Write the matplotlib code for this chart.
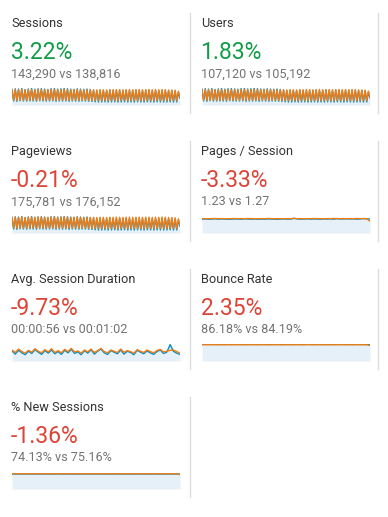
import matplotlib
matplotlib.use("Agg")
import matplotlib.pyplot as plt
import numpy as np
from matplotlib.lines import Line2D

plt.rcParams['font.family'] = ['Roboto', 'DejaVu Sans']

# ---------------- data ----------------
titles = ["Sessions", "Users", "Pageviews", "Pages / Session",
          "Avg. Session Duration", "Bounce Rate", "% New Sessions"]
changes = ["3.22%", "1.83%", "-0.21%", "-3.33%", "-9.73%", "2.35%", "-1.36%"]
positive = [True, True, False, False, False, False, False]
compare_labels = ["143,290 vs 138,816", "107,120 vs 105,192", "175,781 vs 176,152",
                  "1.23 vs 1.27", "00:00:56 vs 00:01:02", "86.18% vs 84.19%",
                  "74.13% vs 75.16%"]

sessions_cur = [
    590, 150, 610, 140, 600, 160, 620, 150, 580, 145, 605, 155, 625, 150, 595, 140, 610, 160, 620, 150,
    600, 145, 585, 150, 615, 155, 625, 140, 600, 150, 610, 145, 630, 150, 615, 140, 600, 150, 590, 145,
    610, 140, 600, 150, 590, 145, 600, 140, 585, 135, 555, 120, 540, 110, 550, 115, 545, 120, 535, 110,
    555, 115, 545, 120, 550, 110, 560, 115, 540, 120, 555, 110, 550, 115, 545, 110, 560, 120, 550, 115,
    545, 110, 555, 120, 550, 115, 540, 110, 560, 120, 545, 115, 550, 110, 555, 115, 540, 120, 545, 110,
    530, 115, 470, 260]
sessions_prev = [
    575, 175, 585, 170, 580, 180, 590, 175, 570, 170, 580, 175, 590, 180, 575, 170, 585, 175, 590, 180,
    580, 170, 575, 175, 585, 180, 590, 170, 580, 175, 585, 170, 595, 175, 585, 180, 575, 170, 580, 175,
    585, 170, 580, 175, 570, 170, 575, 165, 570, 170, 575, 160, 570, 155, 580, 160, 575, 165, 570, 155,
    580, 160, 575, 165, 585, 155, 580, 160, 575, 165, 580, 155, 585, 160, 575, 165, 580, 160, 585, 155,
    575, 160, 580, 165, 585, 155, 575, 160, 580, 165, 575, 160, 585, 155, 580, 160, 570, 165, 565, 160,
    560, 155, 520, 300]

users_cur = [
    445, 115, 460, 105, 450, 120, 465, 110, 440, 110, 455, 115, 470, 112, 450, 105, 460, 120, 465, 112,
    455, 110, 445, 112, 462, 116, 470, 105, 452, 112, 460, 110, 475, 112, 462, 105, 452, 112, 445, 110,
    458, 105, 452, 112, 445, 110, 450, 105, 440, 100, 418, 90, 405, 82, 412, 86, 410, 90, 402, 82,
    418, 86, 410, 90, 412, 82, 420, 86, 405, 90, 416, 82, 412, 86, 410, 82, 420, 90, 412, 86,
    410, 82, 416, 90, 412, 86, 405, 82, 420, 90, 410, 86, 412, 82, 416, 86, 405, 90, 410, 82,
    398, 86, 360, 200]
users_prev = [
    432, 132, 440, 128, 435, 135, 442, 132, 428, 128, 435, 132, 442, 135, 432, 128, 440, 132, 442, 135,
    435, 128, 432, 132, 440, 135, 442, 128, 435, 132, 440, 128, 446, 132, 440, 135, 432, 128, 435, 132,
    440, 128, 435, 132, 428, 128, 432, 124, 428, 128, 432, 120, 428, 116, 435, 120, 432, 124, 428, 116,
    435, 120, 432, 124, 440, 116, 435, 120, 432, 124, 435, 116, 440, 120, 432, 124, 435, 120, 440, 116,
    432, 120, 435, 124, 440, 116, 432, 120, 435, 124, 432, 120, 440, 116, 435, 120, 428, 124, 425, 120,
    420, 116, 395, 230]

pageviews_cur = [
    725, 185, 750, 172, 738, 196, 762, 185, 712, 178, 744, 190, 768, 185, 730, 172, 750, 196, 762, 185,
    738, 178, 720, 185, 756, 190, 768, 172, 738, 185, 750, 178, 775, 185, 756, 172, 738, 185, 725, 178,
    750, 172, 738, 185, 725, 178, 738, 172, 720, 166, 682, 148, 664, 135, 676, 142, 670, 148, 658, 135,
    682, 142, 670, 148, 676, 135, 688, 142, 664, 148, 682, 135, 676, 142, 670, 135, 688, 148, 676, 142,
    670, 135, 682, 148, 676, 142, 664, 135, 688, 148, 670, 142, 676, 135, 682, 142, 664, 148, 670, 135,
    652, 142, 578, 320]
pageviews_prev = [
    730, 222, 742, 215, 736, 228, 748, 222, 724, 215, 736, 222, 748, 228, 730, 215, 742, 222, 748, 228,
    736, 215, 730, 222, 742, 228, 748, 215, 736, 222, 742, 215, 755, 222, 742, 228, 730, 215, 736, 222,
    742, 215, 736, 222, 724, 215, 730, 208, 724, 215, 730, 202, 724, 196, 736, 202, 730, 208, 724, 196,
    736, 202, 730, 208, 742, 196, 736, 202, 730, 208, 736, 196, 742, 202, 730, 208, 736, 202, 742, 196,
    730, 202, 736, 208, 742, 196, 730, 202, 736, 208, 730, 202, 742, 196, 736, 202, 724, 208, 718, 202,
    712, 196, 660, 380]

pages_session_cur = [1.22, 1.24, 1.21, 1.23, 1.25, 1.22, 1.24, 1.23, 1.21, 1.22, 1.24, 1.23, 1.22,
                     1.25, 1.23, 1.22, 1.24, 1.21, 1.23, 1.22, 1.24, 1.23, 1.22, 1.21, 1.23, 1.24,
                     1.22, 1.23, 1.30, 1.24, 1.22, 1.23, 1.25, 1.22, 1.24, 1.23, 1.22, 1.24, 1.23,
                     1.25, 1.22, 1.27, 1.23, 1.24, 1.26, 1.23, 1.25, 1.22, 1.24, 1.28, 1.25, 1.23]
pages_session_prev = [1.26, 1.27, 1.25, 1.27, 1.28, 1.26, 1.27, 1.26, 1.25, 1.27, 1.28, 1.26, 1.27,
                      1.26, 1.28, 1.27, 1.26, 1.25, 1.27, 1.26, 1.28, 1.27, 1.26, 1.27, 1.25, 1.27,
                      1.26, 1.27, 1.28, 1.26, 1.27, 1.25, 1.27, 1.26, 1.28, 1.27, 1.26, 1.25, 1.27,
                      1.26, 1.28, 1.27, 1.26, 1.27, 1.25, 1.27, 1.26, 1.28, 1.27, 1.26, 1.27, 1.05]

duration_cur = [64, 44, 68, 52, 40, 62, 48, 72, 56, 42, 66, 50, 70, 46, 60, 42, 68, 52, 74, 48, 58, 40,
                66, 50, 72, 44, 62, 76, 52, 42, 66, 56, 46, 70, 44, 62, 54, 40, 68, 56, 46, 64, 52, 42,
                60, 70, 48, 56, 104, 62, 50, 42]
duration_prev = [70, 54, 76, 60, 50, 68, 56, 78, 62, 52, 72, 58, 78, 54, 66, 52, 74, 60, 80, 58, 64, 50,
                 70, 58, 76, 54, 66, 80, 60, 52, 70, 62, 54, 76, 56, 66, 60, 50, 72, 62, 54, 70, 60, 52,
                 66, 74, 58, 62, 68, 70, 60, 50]

bounce_cur = [86.2, 86.0, 86.4, 86.1, 85.9, 86.3, 86.2, 86.0, 86.5, 86.1, 86.3, 85.8, 86.2, 86.4, 86.0,
              86.1, 86.3, 86.2, 85.9, 86.4, 86.1, 86.0, 86.3, 86.2, 85.8, 86.1, 86.4, 86.2, 86.0, 86.3,
              86.1, 85.9, 86.2, 86.4, 86.0, 86.3, 86.1, 86.2, 85.8, 86.0, 86.3, 86.1, 85.9, 86.2, 86.4,
              86.0, 85.6, 86.1, 85.7, 86.2, 86.0, 86.3]
bounce_prev = [84.1, 84.3, 84.0, 84.2, 84.4, 83.9, 84.2, 84.1, 84.3, 84.0, 84.2, 84.4, 84.1, 83.9, 84.2,
               84.3, 84.0, 84.1, 84.4, 84.2, 83.9, 84.1, 84.2, 84.3, 84.0, 84.2, 84.1, 83.9, 84.3, 84.2,
               84.0, 84.1, 84.4, 84.2, 84.0, 84.1, 84.3, 83.9, 84.2, 84.1, 84.0, 84.3, 84.2, 84.1, 83.9,
               84.2, 84.1, 84.3, 84.2, 84.0, 84.1, 80.0]

new_sessions_cur = [74.0, 74.3, 73.8, 74.2, 74.5, 73.9, 74.1, 74.4, 73.7, 74.2, 74.0, 74.3, 73.9, 74.1,
                    74.5, 74.0, 73.8, 74.2, 74.3, 73.9, 74.1, 74.0, 74.4, 73.8, 74.2, 74.1, 73.9, 74.3,
                    74.0, 74.2, 73.8, 74.1, 74.4, 74.0, 73.9, 74.2, 74.1, 73.8, 74.3, 74.0, 74.2, 73.9,
                    74.1, 74.4, 74.0, 73.8, 74.2, 74.1, 73.9, 74.3, 74.0, 74.1]
new_sessions_prev = [75.1, 75.3, 74.9, 75.2, 75.4, 75.0, 75.2, 75.3, 74.8, 75.1, 75.2, 75.4, 75.0, 75.1,
                     75.3, 75.2, 74.9, 75.1, 75.4, 75.0, 75.2, 75.1, 75.3, 74.9, 75.2, 75.1, 75.0, 75.3,
                     75.2, 75.1, 74.9, 75.2, 75.3, 75.0, 75.1, 75.2, 75.0, 74.9, 75.3, 75.1, 75.2, 75.0,
                     75.1, 75.4, 75.2, 74.9, 75.1, 75.2, 75.0, 75.3, 75.1, 71.0]

current_series = [sessions_cur, users_cur, pageviews_cur, pages_session_cur,
                  duration_cur, bounce_cur, new_sessions_cur]
previous_series = [sessions_prev, users_prev, pageviews_prev, pages_session_prev,
                   duration_prev, bounce_prev, new_sessions_prev]
y_tops = [640, 480, 790, 1.5, 108, 88, 84]

# ---------------- styling ----------------
W, H = 388, 517
BLUE = "#058dc7"
ORANGE = "#ed7e17"
FILL = "#e6f0f8"
GREEN = "#109d47"
RED = "#db4437"
TITLE_C = "#333333"
SUB_C = "#737373"
DIV_C = "#dddddd"

fig = plt.figure(figsize=(W / 100, H / 100), dpi=100)
fig.patch.set_facecolor("white")

def fx(px):
    return px / W

def fy(py):
    return 1 - py / H

ROW_PITCH = 128
col_text_x = [11, 201]
col_spark_x = [12, 202]
SPARK_W = 168
col_div_x = [190, 378]

for i, title in enumerate(titles):
    r, c = divmod(i, 2)
    oy = r * ROW_PITCH
    tx = col_text_x[c]
    fig.text(fx(tx), fy(26.7 + oy), title, fontsize=9.2, color=TITLE_C, va="baseline", ha="left")
    fig.text(fx(tx - 0.5), fy(58.7 + oy), changes[i], fontsize=16.5,
             color=GREEN if positive[i] else RED, va="baseline", ha="left")
    fig.text(fx(tx), fy(77.3 + oy), compare_labels[i], fontsize=9.1, color=SUB_C,
             va="baseline", ha="left")

    ax = fig.add_axes([fx(col_spark_x[c]), fy(105 + oy), fx(SPARK_W), 17 / H])
    cur = np.array(current_series[i], dtype=float)
    prev = np.array(previous_series[i], dtype=float)
    x = np.arange(len(cur))
    ax.fill_between(x, 0, cur, color=FILL, lw=0)
    ax.plot(x, cur, color=BLUE, lw=1.0, solid_joinstyle="round")
    ax.plot(np.arange(len(prev)), prev, color=ORANGE, lw=1.0, solid_joinstyle="round")
    ax.set_xlim(0, len(cur) - 1)
    ax.set_ylim(0, y_tops[i])
    ax.axis("off")

    # divider
    fig.add_artist(Line2D([fx(col_div_x[c]), fx(col_div_x[c])],
                          [fy(13 + oy), fy(113 + oy)], color=DIV_C, lw=1.0))

fig.savefig("out.png", dpi=100, facecolor="white")
